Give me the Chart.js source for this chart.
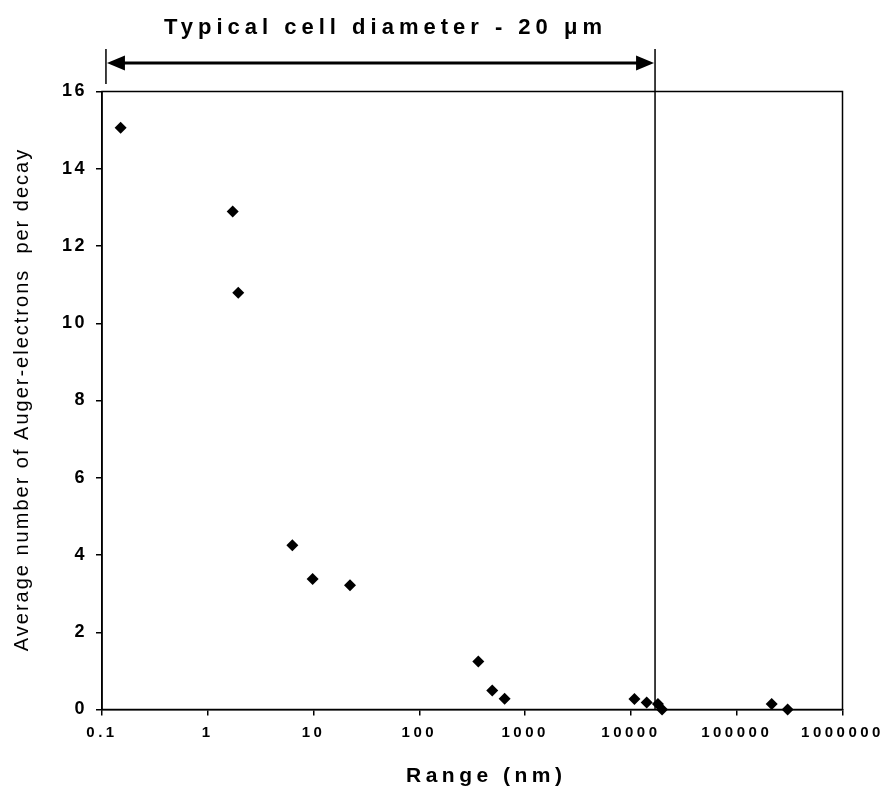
<!DOCTYPE html>
<html>
<head>
<meta charset="utf-8">
<script src="https://cdn.jsdelivr.net/npm/chart.js@4.4.1/dist/chart.umd.min.js"></script>
<style>
html, body { margin: 0; padding: 0; background: #fff; }
#wrap { position: relative; width: 887px; height: 787px; }
</style>
</head>
<body>
<div id="wrap"><canvas id="myChart"></canvas></div>
<script>
// range (nm) and Auger-electrons per decay
let ranges = [0.15, 1.72, 1.94, 6.3, 9.8, 22.1, 361, 489, 640, 10800, 14100, 18000, 19700, 214000, 303000];
let electrons = [15.06, 12.89, 10.79, 4.25, 3.38, 3.22, 1.24, 0.49, 0.28, 0.27, 0.18, 0.14, 0.0, 0.14, 0.0];
let xTicks = [0.1, 1, 10, 100, 1000, 10000, 100000, 1000000];
let yTicks = [0, 2, 4, 6, 8, 10, 12, 14, 16];
// the cell diameter marker and left end of the arrow (nm)
let cellLine = 16900;
let arrowStart = 0.109;

const topTitle = 'Typical cell diameter - 20 \u03bcm';
const xTitle = 'Range (nm)';
const yTitle = 'Average number of Auger-electrons  per decay';
const family = '"Liberation Sans", Arial, sans-serif';

const points = ranges.map((r, i) => ({ x: r, y: electrons[i] }));

const extras = {
    id: 'extras',
    beforeDraw(chart) {
        chart.ctx.letterSpacing = '2.5px'; // y tick labels
    },
    afterDatasetsDraw(chart) {
        chart.ctx.letterSpacing = '3.5px'; // x tick labels
    },
    afterDraw(chart) {
        const ctx = chart.ctx;
        const area = chart.chartArea;
        const xl = chart.scales.x.getPixelForValue(cellLine);
        const xa = chart.scales.x.getPixelForValue(arrowStart);
        ctx.save();
        ctx.letterSpacing = '0px';
        ctx.strokeStyle = '#000';
        ctx.fillStyle = '#000';
        ctx.lineWidth = 1.5;
        ctx.strokeRect(area.left, area.top, area.right - area.left, area.bottom - area.top);

        ctx.beginPath();
        ctx.moveTo(xl, 49);
        ctx.lineTo(xl, area.bottom);
        ctx.moveTo(xa, 49);
        ctx.lineTo(xa, 84);
        ctx.stroke();

        // double arrow
        ctx.lineWidth = 3;
        ctx.beginPath();
        ctx.moveTo(xa + 10, 63);
        ctx.lineTo(xl - 10, 63);
        ctx.stroke();
        ctx.beginPath();
        ctx.moveTo(xa + 1, 63);
        ctx.lineTo(xa + 19, 55.5);
        ctx.lineTo(xa + 19, 70.5);
        ctx.closePath();
        ctx.fill();
        ctx.beginPath();
        ctx.moveTo(xl - 1, 63);
        ctx.lineTo(xl - 19, 55.5);
        ctx.lineTo(xl - 19, 70.5);
        ctx.closePath();
        ctx.fill();

        ctx.textBaseline = 'alphabetic';
        ctx.textAlign = 'left';
        ctx.font = 'bold 22px ' + family;
        ctx.letterSpacing = '5px';
        ctx.fillText(topTitle, 164, 33.5);

        ctx.font = 'bold 21px ' + family;
        ctx.letterSpacing = '4.5px';
        ctx.fillText(xTitle, 406, 782);

        ctx.font = '20px ' + family;
        ctx.letterSpacing = '2px';
        ctx.textAlign = 'center';
        ctx.textBaseline = 'middle';
        ctx.translate(22, (area.top + area.bottom) / 2);
        ctx.rotate(-Math.PI / 2);
        ctx.fillText(yTitle, 1, 0);
        ctx.restore();
    }
};

const chart = document.getElementById('myChart').getContext('2d');

const myChart = new Chart(chart, {
    type: 'scatter',
    data: {
        datasets: [{
            label: 'Auger-electrons',
            data: points,
            clip: false,
            pointStyle: 'rectRot',
            pointRadius: 6,
            backgroundColor: '#000',
            borderColor: '#000',
            borderWidth: 0
        }]
    },
    options: {
        responsive: true,
        maintainAspectRatio: false,
        animation: false,
        layout: { padding: { left: 0, top: 91.5, right: 44.5, bottom: 0 } },
        plugins: {
            legend: { display: false },
            tooltip: { enabled: false }
        },
        scales: {
            x: {
                type: 'logarithmic',
                min: 0.1,
                max: 1000000,
                afterFit: s => { s.height = 77.5; },
                afterBuildTicks: s => { s.ticks = xTicks.map(v => ({ value: v })); },
                grid: { drawOnChartArea: false, drawTicks: true, tickLength: 6, color: '#000', lineWidth: 1.5 },
                border: { color: '#000', width: 1.5 },
                ticks: {
                    z: 1,
                    autoSkip: false,
                    maxRotation: 0,
                    padding: 8,
                    color: '#000',
                    font: { family: family, weight: 'bold', size: 15 },
                    callback: v => String(v)
                }
            },
            y: {
                min: 0,
                max: 16,
                afterFit: s => { s.width = 102; },
                afterBuildTicks: s => { s.ticks = yTicks.map(v => ({ value: v })); },
                grid: { drawOnChartArea: false, drawTicks: true, tickLength: 6, color: '#000', lineWidth: 1.5 },
                border: { color: '#000', width: 1.5 },
                ticks: {
                    padding: 9,
                    color: '#000',
                    font: { family: family, weight: 'bold', size: 18 }
                }
            }
        }
    },
    plugins: [extras]
});
</script>
</body>
</html>
